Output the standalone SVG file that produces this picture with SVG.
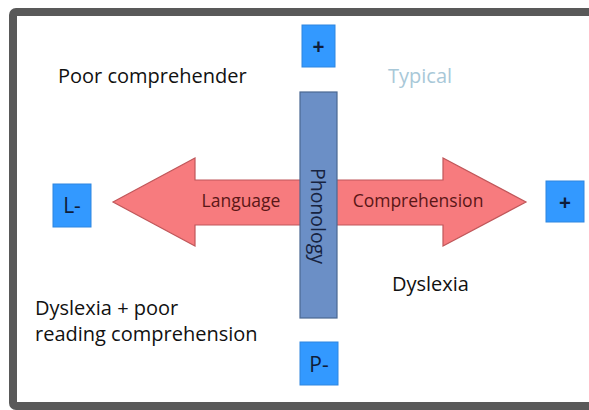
<svg xmlns="http://www.w3.org/2000/svg" width="589" height="410" viewBox="0 0 589 410">
<style>
.t{font-family:"Open Sans","Liberation Sans",sans-serif;font-size:20px;fill:#111111}
.box{fill:#3399ff;stroke:#2f86e0;stroke-width:1}
.bt{font-family:"Open Sans","Liberation Sans",sans-serif;font-size:21px;fill:#0f1d3a;text-anchor:middle}
.at{font-family:"Open Sans","Liberation Sans",sans-serif;font-size:17.5px;fill:#5a1616;text-anchor:middle}
.pt{font-family:"Open Sans","Liberation Sans",sans-serif;font-size:19.5px;fill:#17233f;text-anchor:middle}
</style>
<rect x="0" y="0" width="589" height="410" fill="#ffffff"/>
<rect id="frame" x="13" y="12" width="600" height="394" rx="3" fill="none" stroke="#595959" stroke-width="8"/>
<g id="connectors">
<path id="arrow" d="M113,202 L195,158 L195,180 L443,180 L443,158 L526,202 L443,246 L443,225 L195,225 L195,246 Z" fill="#f77b7e" stroke="#c0575a" stroke-width="1.2"/>
</g>
<g id="phonology">
<rect x="300" y="92" width="37" height="226" fill="#6b8fc6" stroke="#4a6892" stroke-width="1.2"/>
<text class="pt" transform="translate(311,216) rotate(90)">Phonology</text>
</g>
<g id="language-label"><text class="at" x="241" y="207">Language</text></g>
<g id="comprehension-label"><text class="at" x="418" y="207">Comprehension</text></g>
<g id="plus-top"><rect class="box" x="302" y="25" width="33" height="42"/><text class="bt" x="318.5" y="54" font-weight="bold">+</text></g>
<g id="p-minus"><rect class="box" x="300" y="342" width="38" height="43"/><text class="bt" x="319" y="372">P-</text></g>
<g id="l-minus"><rect class="box" x="53" y="184" width="38" height="43"/><text class="bt" x="72" y="213">L-</text></g>
<g id="plus-right"><rect class="box" x="546" y="181" width="38" height="41"/><text class="bt" x="565" y="210" font-weight="bold">+</text></g>
<g id="poor-comprehender"><text class="t" x="58" y="83">Poor comprehender</text></g>
<g id="typical"><text class="t" x="388" y="83" style="fill:#a8c8d8">Typical</text></g>
<g id="dyslexia"><text class="t" x="392" y="291">Dyslexia</text></g>
<g id="dyslexia-poor"><text class="t" x="35" y="315">Dyslexia + poor</text><text class="t" x="35" y="341">reading comprehension</text></g>
</svg>
